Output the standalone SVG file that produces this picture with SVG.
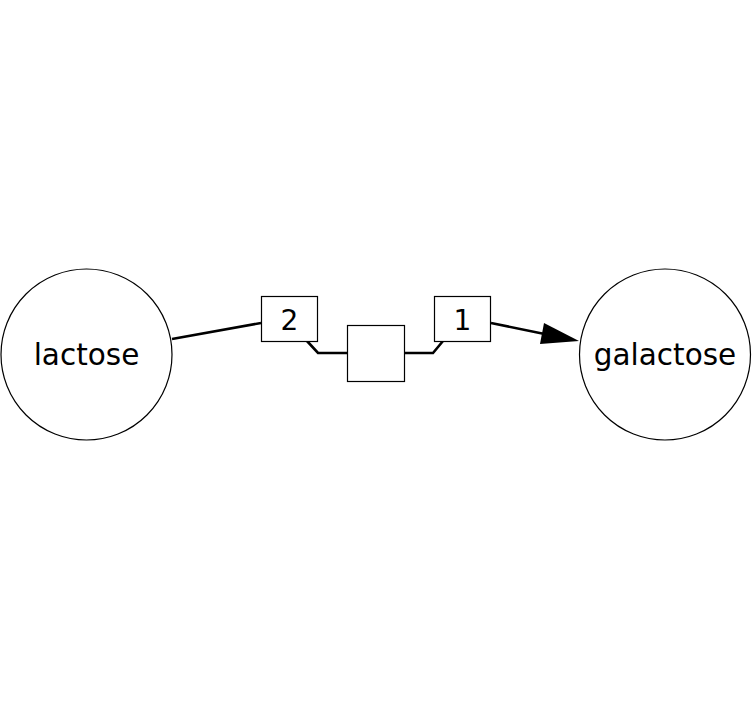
<svg xmlns="http://www.w3.org/2000/svg" width="752" height="708" viewBox="0 0 752 708">
<style>
.node{fill:#fff;stroke:#000;stroke-width:1.2}
.lbl{font-family:"DejaVu Sans",sans-serif;font-size:29.5px;fill:#000;text-anchor:middle}
.num{font-family:"DejaVu Sans",sans-serif;font-size:28px;fill:#000;text-anchor:middle}
.edge{fill:none;stroke:#000;stroke-width:2.6}
</style>
<rect width="752" height="708" fill="#fff"/>
<g id="edges">
<line class="edge" x1="172" y1="339" x2="261" y2="323"/>
<polyline class="edge" points="307,341 318,353 347,353"/>
<polyline class="edge" points="404,353 433,353 443,341"/>
<line class="edge" x1="491" y1="323" x2="547" y2="334.5"/>
<path d="M544,323 L579,341 L540,344 z" fill="#000"/>
</g>
<g id="lactose">
<circle class="node" cx="86.5" cy="354.5" r="85.5"/>
<text class="lbl" x="86.5" y="365">lactose</text>
</g>
<g id="galactose">
<circle class="node" cx="665" cy="354.5" r="85.5"/>
<text class="lbl" x="665" y="365">galactose</text>
</g>
<g id="box2">
<rect class="node" x="261.5" y="296.5" width="56" height="45"/>
<text class="num" x="289.5" y="330">2</text>
</g>
<g id="process">
<rect class="node" x="347.5" y="325.5" width="57" height="56"/>
</g>
<g id="box1">
<rect class="node" x="434.5" y="296.5" width="56" height="45"/>
<text class="num" x="462.5" y="330">1</text>
</g>
</svg>
